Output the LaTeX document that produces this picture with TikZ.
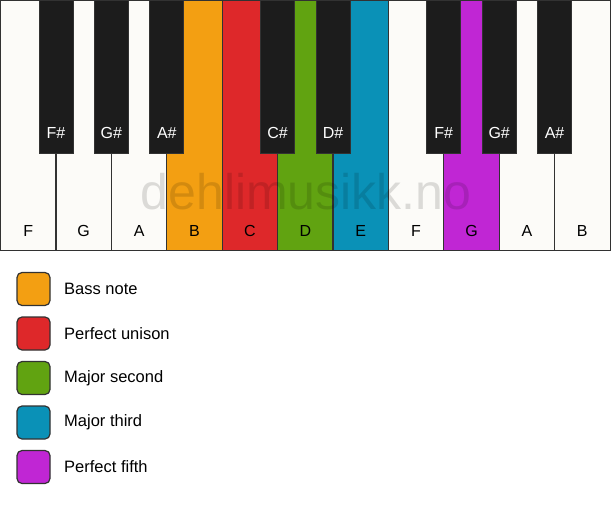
\documentclass[tikz,border=0pt]{standalone}
\usepackage{fontspec}
\setmainfont{Liberation Sans}
\definecolor{keywhite}{RGB}{252,251,248}
\definecolor{keyblack}{RGB}{28,28,28}
\definecolor{keyedge}{RGB}{50,50,50}
\definecolor{cbass}{RGB}{243,159,18}
\definecolor{cunison}{RGB}{222,40,42}
\definecolor{csecond}{RGB}{97,163,17}
\definecolor{cthird}{RGB}{10,145,183}
\definecolor{cfifth}{RGB}{192,38,212}
\tikzset{
  whitekey/.style={draw=keyedge, line width=1.2pt, fill=keywhite, minimum width=55.5pt, minimum height=250pt, inner sep=0pt, outer sep=0pt, anchor=north west},
  blackkey/.style={draw=keyedge, line width=0.8pt, fill=keyblack, minimum width=34pt, minimum height=153pt, inner sep=0pt, outer sep=0pt, anchor=north},
  wlabel/.style={font=\fontsize{16}{19}\selectfont, text=black},
  blabel/.style={font=\fontsize{16}{19}\selectfont, text=white},
  legbox/.style={draw=keyedge, line width=1.2pt, rounded corners=5pt, minimum width=33pt, minimum height=33pt, inner sep=0pt},
  legtext/.style={font=\fontsize{16.5}{19}\selectfont, anchor=west, inner sep=0pt},
  watermark/.style={font=\fontsize{50}{60}\selectfont, text=black, text opacity=0.13}
}
\begin{document}
\begin{tikzpicture}[x=1pt,y=-1pt]
\useasboundingbox (0,0) rectangle (611,506);
\fill[white] (0,0) rectangle (611,506);
% white keys
\foreach \i/\n/\c in {0/F/keywhite,1/G/keywhite,2/A/keywhite,3/B/cbass,4/C/cunison,5/D/csecond,6/E/cthird,7/F/keywhite,8/G/cfifth,9/A/keywhite,10/B/keywhite}{
  \node[whitekey, fill=\c] (w\i) at ({0.6+\i*55.4},0.6) {};
  \node[wlabel] (wl\i) at ({0.6+\i*55.4+27.7},231) {\n};
}
% watermark
\node[watermark] (wm) at (306,192) {dehlimusikk.no};
% black keys
\foreach \i/\n in {1/F\#,2/G\#,3/A\#,5/C\#,6/D\#,8/F\#,9/G\#,10/A\#}{
  \node[blackkey] (b\i) at ({0.6+\i*55.4},0) {};
  \node[blabel] (bl\i) at ({0.6+\i*55.4},133) {\n};
}
% legend
\foreach \k/\c/\t [count=\j from 0] in {bass/cbass/Bass note, unison/cunison/Perfect unison, second/csecond/Major second, third/cthird/Major third, fifth/cfifth/Perfect fifth}{
  \node[legbox, fill=\c] (lb\k) at (33.5,{289+\j*44.5}) {};
  \node[legtext] (lt\k) at (64,{289+\j*44.5}) {\t};
}
\end{tikzpicture}
\end{document}
